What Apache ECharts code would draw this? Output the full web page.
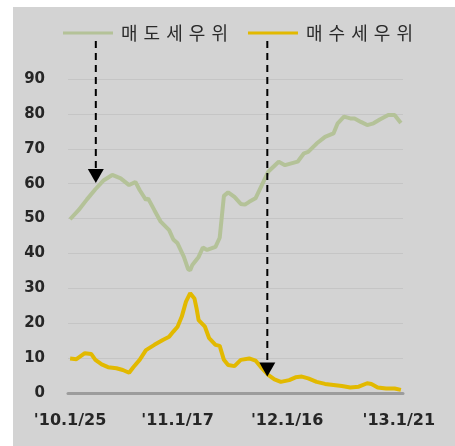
<!DOCTYPE html>
<html>
<head>
<meta charset="utf-8">
<script src="https://cdn.jsdelivr.net/npm/echarts@6/dist/echarts.min.js"></script>
<style>
  html, body { margin: 0; padding: 0; background: #ffffff; }
  #panel { position: absolute; left: 13px; top: 7px; width: 442px; height: 439px; background: #d3d3d3; }
</style>
</head>
<body>
<div id="panel"></div>
<script>
// Weekly index (0 = 2010-01-25) and readings for each series
const seriesNames = ['매도세우위', '매수세우위'];

const sellWeeks = [0, 4, 8, 12, 16, 20, 24, 28, 31, 33, 36, 37, 40, 43, 47, 49, 51, 54, 56, 57, 58, 61, 63, 65, 69, 71, 73, 75, 78, 81, 83, 85, 88, 91, 94, 99, 102, 105, 108, 111, 113, 117, 121, 125, 127, 130, 133, 135, 138, 141, 144, 147, 151, 154, 157];
const sellValues = [49.8, 52.4, 55.5, 58.4, 61.0, 62.5, 61.5, 59.6, 60.5, 58.2, 55.3, 55.8, 52.4, 49.1, 46.7, 44.0, 42.9, 39.0, 35.5, 35.2, 36.7, 39.0, 41.7, 41.0, 41.9, 44.5, 56.5, 57.5, 56.2, 54.2, 54.0, 54.8, 55.8, 59.6, 63.4, 66.3, 65.3, 65.8, 66.3, 68.7, 69.1, 71.5, 73.4, 74.4, 77.3, 79.2, 78.7, 78.7, 77.7, 76.8, 77.3, 78.4, 79.7, 79.7, 77.4];

const buyWeeks = [0, 3, 7, 10, 12, 15, 18, 22, 25, 28, 30, 33, 36, 40, 44, 47, 49, 51, 53, 55, 57, 59, 60, 61, 64, 66, 69, 71, 73, 75, 78, 81, 85, 88, 91, 94, 97, 100, 104, 107, 110, 113, 117, 121, 125, 129, 133, 137, 141, 143, 146, 150, 154, 157];
const buyValues = [9.9, 9.7, 11.4, 11.2, 9.5, 8.2, 7.4, 7.1, 6.6, 5.8, 7.4, 9.5, 12.3, 13.8, 15.2, 16.1, 17.6, 19.0, 21.9, 26.2, 28.6, 27.1, 24.3, 20.9, 19.0, 15.7, 13.8, 13.5, 9.5, 8.0, 7.7, 9.5, 9.9, 9.3, 7.1, 5.2, 3.9, 3.2, 3.7, 4.5, 4.7, 4.2, 3.2, 2.6, 2.3, 2.0, 1.6, 1.8, 2.8, 2.6, 1.6, 1.3, 1.3, 0.9];

const tickWeeks = [0, 51, 103, 156];
const tickLabels = ["'10.1/25", "'11.1/17", "'12.1/16", "'13.1/21"];

// Dashed pointer arrows: week position, start value, tip value
const arrowWeeks = [12.2, 93.6];
const arrowStarts = [100.9, 100.9];
const arrowTips = [60.2, 4.7];

const sellColor = '#b4c298';
const buyColor = '#e2b900';

const pair = (xs, ys) => xs.map((x, i) => [x, ys[i]]);

const chart = echarts.init(document.getElementById('panel'), null, { renderer: 'canvas' });

const option = {
  animation: false,
  backgroundColor: '#d3d3d3',
  legend: {
    left: 45,
    top: 12,
    icon: 'rect',
    itemWidth: 50,
    itemHeight: 3,
    itemGap: 20,
    selectedMode: false,
    formatter: name => name.split('').map(c => '{c|' + c + '}').join(''),
    textStyle: {
      rich: {
        c: { width: 22.6, align: 'center', fontSize: 18, color: '#2a2a2a', fontFamily: 'Noto Sans CJK KR' }
      }
    },
    data: seriesNames
  },
  grid: { left: 55, right: 52, top: 72, bottom: 53, containLabel: false, outerBoundsMode: 'none' },
  xAxis: {
    type: 'value',
    min: -1,
    max: 158,
    interval: 1,
    axisLine: { show: true, onZero: true, lineStyle: { color: '#9c9c9c', width: 3 } },
    axisTick: { show: false },
    splitLine: { show: false },
    axisLabel: {
      margin: 20,
      fontSize: 16,
      fontWeight: 'bold',
      fontFamily: 'DejaVu Sans',
      color: '#262626',
      formatter: v => {
        const k = tickWeeks.indexOf(v);
        return k >= 0 ? tickLabels[k] : '';
      }
    }
  },
  yAxis: {
    type: 'value',
    min: 0,
    max: 90,
    interval: 10,
    axisLine: { show: false },
    axisTick: { show: false },
    axisLabel: { margin: 23, fontSize: 15, fontWeight: 'bold', fontFamily: 'DejaVu Sans', color: '#262626' },
    splitLine: { lineStyle: { color: '#c5c5c5', width: 1 } }
  },
  series: [
    {
      name: seriesNames[0],
      type: 'line',
      data: pair(sellWeeks, sellValues),
      showSymbol: false,
      color: sellColor,
      lineStyle: { color: sellColor, width: 4 },
      z: 3
    },
    {
      name: seriesNames[1],
      type: 'line',
      data: pair(buyWeeks, buyValues),
      showSymbol: false,
      color: buyColor,
      lineStyle: { color: buyColor, width: 4 },
      z: 4
    }
  ]
};

chart.setOption(option);

// Build the arrows from axis coordinates
const arrowGraphics = [];
arrowWeeks.forEach((w, i) => {
  const p0 = chart.convertToPixel({ gridIndex: 0 }, [w, arrowStarts[i]]);
  const p1 = chart.convertToPixel({ gridIndex: 0 }, [w, arrowTips[i]]);
  const headH = 14, headW = 8;
  arrowGraphics.push({
    type: 'line', z: 100, silent: true,
    shape: { x1: p0[0], y1: p0[1], x2: p1[0], y2: p1[1] - headH },
    style: { stroke: '#000', lineWidth: 2, lineDash: [7, 5] }
  });
  arrowGraphics.push({
    type: 'polygon', z: 100, silent: true,
    shape: { points: [[p1[0] - headW, p1[1] - headH], [p1[0] + headW, p1[1] - headH], [p1[0], p1[1]]] },
    style: { fill: '#000' }
  });
});
chart.setOption({ graphic: arrowGraphics });
</script>
</body>
</html>
